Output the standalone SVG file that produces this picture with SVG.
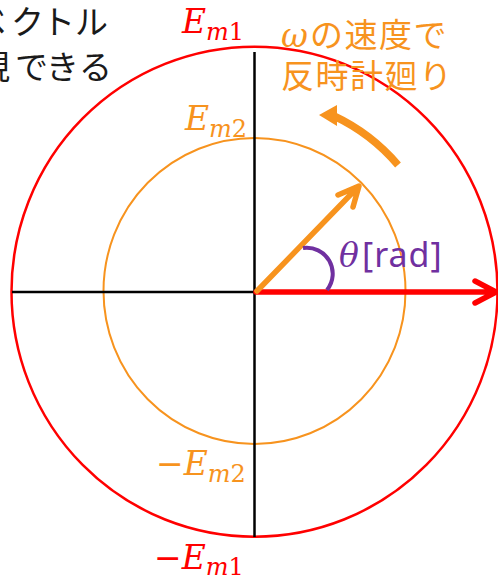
<svg xmlns="http://www.w3.org/2000/svg" width="498" height="580" viewBox="0 0 498 580">
<style>
.ax{stroke:#000;stroke-width:2.5;fill:none}
.cr{stroke:#FF0000;stroke-width:2.5;fill:none}
.co{stroke:#F7931E;stroke-width:2;fill:none}
.math{font-family:"DejaVu Serif",serif;font-style:italic}
.jp{font-family:"Noto Sans CJK JP",sans-serif}
.red{fill:#FF0000}
.org{fill:#F7931E}
.vr{stroke:#FF0000;stroke-width:5.5;fill:none;stroke-linecap:round;stroke-linejoin:round}
.vo{stroke:#F7931E;stroke-width:5.5;fill:none;stroke-linecap:round;stroke-linejoin:round}
</style>
<rect width="498" height="580" fill="#fff"/>
<g id="caption">
<text class="jp" font-size="33" fill="#1a1a1a"><tspan x="-27 11 42 75" y="34">ベクトル</tspan><tspan x="-23 15 46 79" y="79">現できる</tspan></text>
</g>
<g id="circle-em1"><ellipse class="cr" cx="254.5" cy="291.7" rx="243" ry="245"/></g>
<g id="circle-em2"><ellipse class="co" cx="254.5" cy="291" rx="151" ry="153"/></g>
<g id="axes">
<line class="ax" x1="12" y1="292" x2="490" y2="292"/>
<line class="ax" x1="254.5" y1="52" x2="254.5" y2="537"/>
</g>
<g id="label-em1">
<text class="math red" font-size="33" x="182" y="33">E<tspan font-size="24" dy="7">m</tspan><tspan font-size="24" font-style="normal">1</tspan></text>
</g>
<g id="label-em2">
<text class="math org" font-size="33" x="185" y="130">E<tspan font-size="24" dy="7">m</tspan><tspan font-size="24" font-style="normal">2</tspan></text>
</g>
<g id="label-neg-em2">
<text class="math org" font-size="33" x="156" y="475"><tspan font-style="normal">−</tspan>E<tspan font-size="24" dy="7">m</tspan><tspan font-size="24" font-style="normal">2</tspan></text>
</g>
<g id="label-neg-em1">
<text class="math red" font-size="33" x="154" y="569"><tspan font-style="normal">−</tspan>E<tspan font-size="24" dy="6">m</tspan><tspan font-size="24" font-style="normal">1</tspan></text>
</g>
<g id="rotation-label">
<text class="org" font-size="33"><tspan class="math" x="281" y="47">ω</tspan><tspan class="jp" x="310" y="47" letter-spacing="1.5">の速度で</tspan></text>
<text class="org jp" font-size="33" x="281" y="88" letter-spacing="1.5">反時計廻り</text>
</g>
<g id="angle-label">
<text font-size="33" fill="#7030A0"><tspan class="math" x="339" y="267">θ</tspan><tspan x="362" y="267" font-family="Noto Sans, sans-serif" font-size="34" letter-spacing="1">[rad]</tspan></text>
</g>
<g id="connectors">
<path class="vr" d="M256 292 H495 M475 281 L496 292 L475 303"/>
<path class="vo" d="M257 291 L358 187 M338 195 L359 186 L353 207"/>
<path d="M303 248 A26 26 0 0 1 327 290" fill="none" stroke="#7030A0" stroke-width="4"/>
<path d="M398 165 A190 190 0 0 0 334 116" fill="none" stroke="#F7931E" stroke-width="7.5"/>
<polygon points="319,115 337,105 337,126" fill="#F7931E"/>
</g>
</svg>
